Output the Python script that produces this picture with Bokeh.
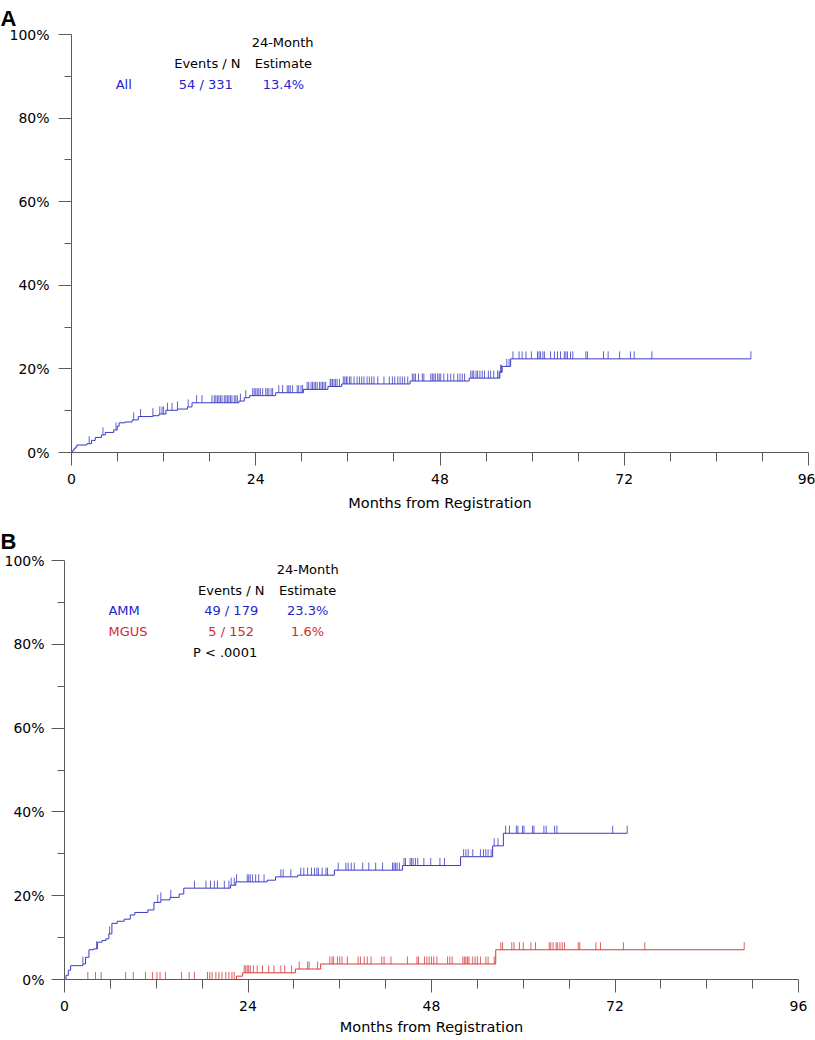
import numpy as np
from bokeh.plotting import figure
from bokeh.models import Range1d, FixedTicker, Label
from bokeh.embed import file_html
from bokeh.resources import INLINE

# ---------------- Panel A: all patients ----------------
all_times = [0, 0.1, 0.3, 0.5, 0.7, 2.0, 2.6, 3.1, 3.9, 4.4, 5.5, 5.95, 6.2, 6.95, 7.9, 8.7,
             10.6, 11.4, 12.3, 13.8, 15.1, 15.7, 21.8, 22.5, 23.2, 26.6, 30.2, 33.4, 35.2,
             44.1, 51.8, 55.8, 56.1, 57.2, 88.5]
all_cum = [0, 0.4, 0.9, 1.3, 1.8, 2.1, 2.9, 3.6, 4.2, 4.8, 5.4, 6.3, 7.1, 7.3, 7.8, 8.6,
           8.8, 9.2, 10.1, 10.4, 10.9, 11.9, 12.3, 13.1, 13.6, 14.3, 15.1, 15.8, 16.4,
           17.1, 17.8, 19.2, 20.6, 22.4, 22.4]
all_censored = [2.3, 4.1, 5.8, 8.1, 9.0, 10.6, 11.5, 11.8, 12.0, 12.5, 13.1, 13.8, 15.2, 16.3,
                17.0, 18.3, 18.6, 18.8, 19.0, 19.2, 19.4, 19.6, 19.9, 20.1, 20.3, 20.5, 20.7,
                20.9, 21.2, 21.4, 21.6, 22.0, 22.7, 23.6, 23.8, 24.0, 24.2, 24.4, 24.6, 24.9,
                25.3, 25.5, 25.7, 26.0, 26.2, 27.0, 27.5, 28.1, 28.3, 28.5, 28.8, 29.4, 29.6,
                29.9, 30.1, 30.7, 30.9, 31.2, 31.4, 31.6, 31.8, 32.0, 32.3, 32.5, 32.7, 32.9,
                33.1, 33.7, 33.8, 34.0, 34.2, 34.4, 34.6, 34.9, 35.4, 35.6, 35.8, 35.9, 36.2,
                36.4, 36.8, 37.2, 37.5, 37.8, 38.1, 38.5, 38.8, 39.1, 39.4, 39.9, 40.7, 41.4,
                41.8, 42.1, 42.5, 42.8, 43.1, 43.4, 43.8, 44.4, 44.6, 44.8, 45.2, 45.7, 45.9,
                46.8, 47.0, 47.2, 47.4, 47.7, 47.9, 48.1, 48.5, 49.0, 49.4, 49.8, 50.3, 50.6,
                50.9, 51.2, 52.0, 52.2, 52.4, 52.7, 52.9, 53.2, 53.5, 53.8, 54.3, 54.6, 55.0,
                55.5, 55.7, 55.9, 56.0, 56.7, 57.0, 57.5, 58.3, 58.7, 59.2, 59.9, 60.7, 60.9,
                61.1, 61.4, 61.6, 62.4, 62.9, 63.3, 63.7, 64.2, 64.4, 64.6, 65.0, 65.3, 67.0,
                67.2, 69.3, 69.9, 71.4, 72.8, 73.3, 75.6, 88.5]

# ---------------- Panel B: AMM vs MGUS ----------------
amm_times = [0, 0.2, 0.5, 0.8, 2.4, 2.75, 3.2, 3.8, 4.3, 4.9, 5.4, 5.8, 6.2, 6.9, 7.8, 8.6,
             9.2, 10.9, 11.7, 12.6, 13.8, 15.0, 15.6, 21.7, 22.4, 26.5, 27.6, 30.5, 35.3,
             44.2, 51.8, 56.0, 57.4, 73.6]
amm_cum = [0, 1.0, 2.2, 3.3, 3.7, 5.3, 7.1, 7.3, 8.9, 9.3, 9.7, 10.9, 13.4, 13.9, 14.4, 15.4,
           16.0, 16.6, 18.4, 19.0, 19.6, 20.4, 21.8, 22.5, 23.3, 23.7, 24.5, 24.9, 26.1,
           27.2, 29.3, 31.9, 34.9, 34.9]
amm_censored = [2.4, 4.2, 5.9, 12.2, 12.6, 13.9, 17.0, 18.5, 19.1, 19.6, 20.0, 20.9, 21.5,
                21.8, 22.2, 22.5, 23.9, 24.1, 24.3, 24.6, 25.0, 25.4, 26.1, 28.3, 28.6, 29.6,
                30.9, 31.3, 31.8, 32.3, 32.7, 33.0, 33.2, 33.7, 34.2, 34.4, 35.8, 36.8, 37.1,
                37.5, 37.9, 39.0, 39.8, 40.7, 41.6, 42.9, 43.1, 43.3, 43.5, 43.8, 44.4, 44.6,
                45.2, 45.4, 45.6, 45.9, 46.2, 47.0, 47.9, 49.1, 49.7, 52.2, 52.5, 52.8, 53.4,
                54.4, 54.8, 55.1, 55.4, 55.8, 56.2, 56.7, 57.7, 58.2, 59.1, 59.3, 59.9, 60.1,
                61.2, 61.4, 62.7, 63.0, 64.1, 64.4, 71.7, 73.6]

mgus_times = [0, 22.5, 23.3, 30.2, 33.5, 56.4, 88.9]
mgus_cum = [0, 0.8, 1.6, 2.5, 3.7, 7.1, 7.1]
mgus_censored = [3.05, 4.06, 4.8, 8.0, 9.0, 10.6, 11.5, 12.1, 12.5, 13.2, 15.3, 16.3, 17.0,
                 18.7, 19.0, 19.3, 19.8, 20.2, 20.6, 21.1, 21.5, 21.9, 22.2, 23.5, 23.7, 23.9,
                 24.1, 24.3, 24.7, 25.2, 25.9, 26.7, 27.4, 28.3, 28.8, 29.7, 30.7, 31.8, 32.0,
                 33.1, 34.7, 35.0, 35.2, 35.7, 36.0, 36.3, 37.0, 38.4, 38.7, 39.2, 39.6, 40.1,
                 41.5, 41.8, 42.7, 44.85, 46.1, 46.3, 47.1, 47.4, 47.7, 48.0, 48.3, 48.7, 50.1,
                 50.4, 50.7, 52.1, 52.3, 52.5, 52.7, 52.9, 53.4, 53.7, 54.0, 54.4, 55.1, 55.4,
                 56.2, 57.07, 57.3, 58.5, 58.8, 59.5, 60.0, 61.0, 61.6, 63.4, 63.6, 63.9, 64.3,
                 64.5, 64.8, 65.1, 65.4, 67.2, 67.4, 69.5, 70.1, 73.1, 75.9, 88.9]

# ---------------- Axis ticks & text ----------------
x_ticks = [0, 24, 48, 72, 96]
x_minor_ticks = [6, 12, 18, 30, 36, 42, 54, 60, 66, 78, 84, 90]
y_ticks = [0, 20, 40, 60, 80, 100]
y_tick_labels = ["0%", "20%", "40%", "60%", "80%", "100%"]
y_minor_ticks = [10, 30, 50, 70, 90]
x_title = "Months from Registration"

BLUE_LINE = "#3a3ac4"
BLUE_TEXT = "#2424cc"
RED_LINE = "#d63a3a"
RED_TEXT = "#d42a2a"
AXIS = "#5a5a5a"
FONT = "DejaVu Sans"
CENSOR_H = 1.8


def step_value(times, cum, t):
    idx = np.searchsorted(np.asarray(times), np.asarray(t), side="right") - 1
    return np.asarray(cum)[idx]


def make_fig(letter, height, left, right, top, bottom, xlab_standoff, ylab_standoff,
             title_standoff, letter_standoff):
    p = figure(width=815, height=height, output_backend="svg", toolbar_location=None,
               x_range=Range1d(0, 96), y_range=Range1d(0, 100),
               min_border_left=left, min_border_right=right,
               min_border_top=top, min_border_bottom=bottom, title=letter)
    p.outline_line_color = None
    p.grid.visible = False
    p.background_fill_color = "white"
    p.border_fill_color = "white"

    p.title.text_font = "Liberation Sans"
    p.title.text_font_size = "22px"
    p.title.text_font_style = "bold"
    p.title.text_color = "black"
    p.title.align = "left"
    p.title.offset = -left
    p.title.standoff = letter_standoff

    xa = p.xaxis[0]
    xa.ticker = FixedTicker(ticks=x_ticks, minor_ticks=x_minor_ticks)
    xa.axis_label = x_title
    xa.axis_label_text_font = FONT
    xa.axis_label_text_font_size = "14.5px"
    xa.axis_label_text_font_style = "normal"
    xa.axis_label_text_color = "black"
    xa.axis_label_standoff = title_standoff
    xa.major_label_text_font = FONT
    xa.major_label_text_font_size = "14px"
    xa.major_label_text_color = "black"
    xa.major_label_standoff = xlab_standoff
    xa.major_tick_out = 13
    xa.major_tick_in = 0
    xa.minor_tick_out = 9
    xa.minor_tick_in = 0

    ya = p.yaxis[0]
    ya.ticker = FixedTicker(ticks=y_ticks, minor_ticks=y_minor_ticks)
    ya.major_label_overrides = {t: s for t, s in zip(y_ticks, y_tick_labels)}
    ya.major_label_text_font = FONT
    ya.major_label_text_font_size = "14px"
    ya.major_label_text_color = "black"
    ya.major_label_standoff = ylab_standoff
    ya.major_tick_out = 13
    ya.major_tick_in = 0
    ya.minor_tick_out = 7
    ya.minor_tick_in = 0

    for ax in (xa, ya):
        ax.axis_line_color = AXIS
        ax.major_tick_line_color = AXIS
        ax.minor_tick_line_color = AXIS
    return p


def draw_curve(p, times, cum, censored, color):
    p.step(x=times, y=cum, mode="after", line_color=color, line_width=1)
    cy = step_value(times, cum, censored)
    p.segment(x0=censored, y0=cy, x1=censored, y1=cy + CENSOR_H,
              line_color=color, line_width=1, line_alpha=0.8)


def add_text(p, x, y, text, color="black", align="center"):
    p.add_layout(Label(x=x, y=y, text=text, text_color=color, text_align=align,
                       text_baseline="middle", text_font=FONT, text_font_size="13px"))


# ---------------- Figure A ----------------
pa = make_fig("A", 520, 71, 7, 32, 68, 8, 9, 8, 7)
draw_curve(pa, all_times, all_cum, all_censored, BLUE_LINE)
add_text(pa, 27.5, 98.1, "24-Month")
add_text(pa, 17.7, 93.1, "Events / N")
add_text(pa, 27.6, 93.1, "Estimate")
add_text(pa, 5.75, 88.1, "All", color=BLUE_TEXT, align="left")
add_text(pa, 17.5, 88.1, "54 / 331", color=BLUE_TEXT)
add_text(pa, 27.6, 88.1, "13.4%", color=BLUE_TEXT)

# ---------------- Figure B ----------------
pb = make_fig("B", 520, 64, 17, 39, 61, 8, 7, 5, 13)
draw_curve(pb, mgus_times, mgus_cum, mgus_censored, RED_LINE)
draw_curve(pb, amm_times, amm_cum, amm_censored, BLUE_LINE)
add_text(pb, 31.8, 97.9, "24-Month")
add_text(pb, 21.8, 92.9, "Events / N")
add_text(pb, 31.8, 92.9, "Estimate")
add_text(pb, 5.75, 88.0, "AMM", color=BLUE_TEXT, align="left")
add_text(pb, 21.8, 88.0, "49 / 179", color=BLUE_TEXT)
add_text(pb, 31.8, 88.0, "23.3%", color=BLUE_TEXT)
add_text(pb, 5.75, 83.1, "MGUS", color=RED_TEXT, align="left")
add_text(pb, 21.8, 83.1, "5 / 152", color=RED_TEXT)
add_text(pb, 31.8, 83.1, "1.6%", color=RED_TEXT)
add_text(pb, 21.0, 78.1, "P < .0001")

open("out.html", "w").write(file_html([pa, pb], INLINE))
